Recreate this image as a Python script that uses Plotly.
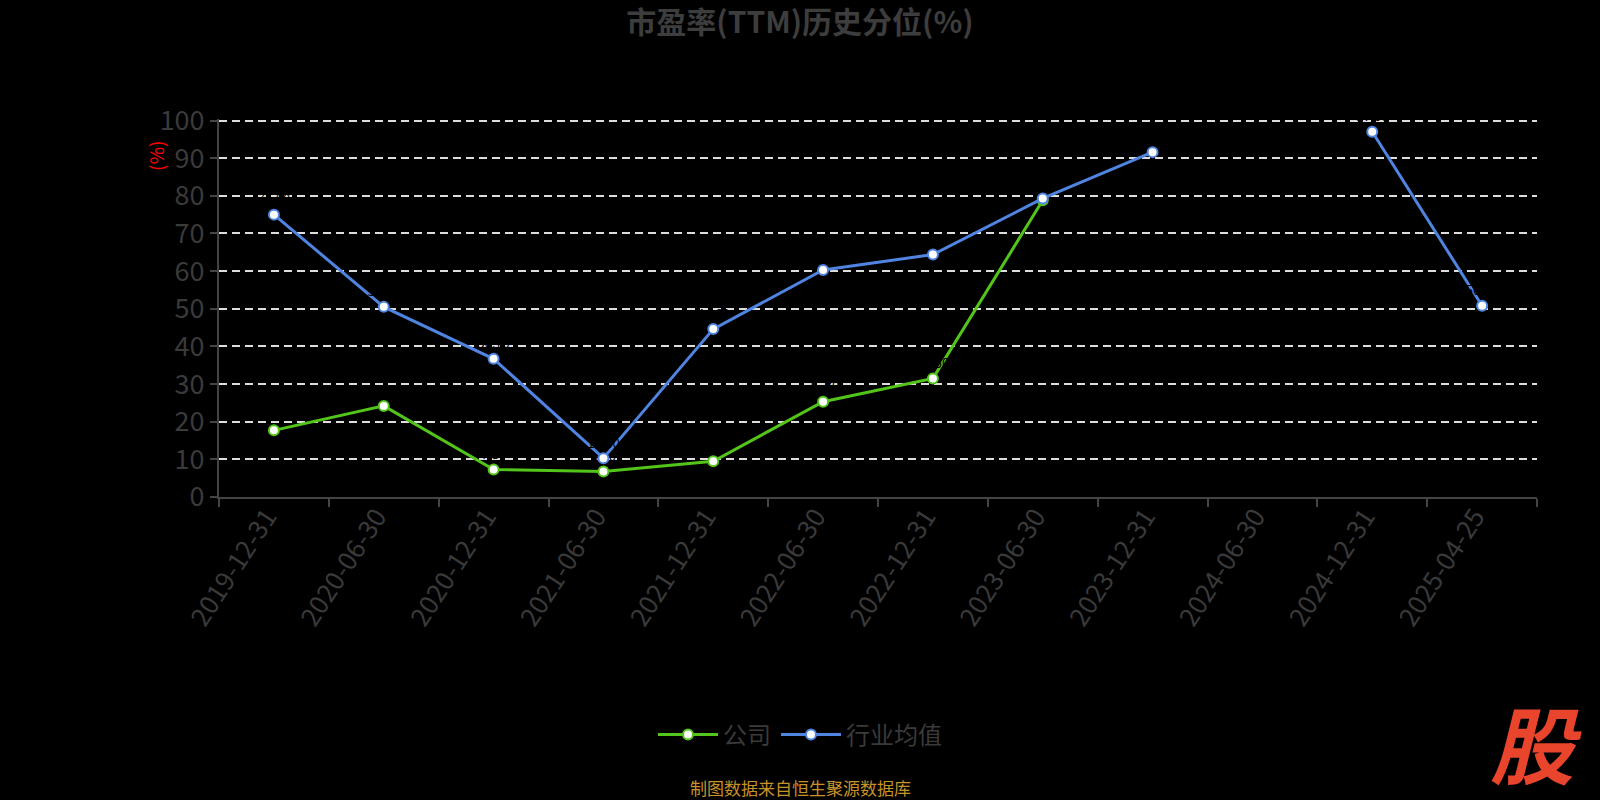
import plotly.graph_objects as go

categories = ["2019-12-31", "2020-06-30", "2020-12-31", "2021-06-30", "2021-12-31",
              "2022-06-30", "2022-12-31", "2023-06-30", "2023-12-31", "2024-06-30",
              "2024-12-31", "2025-04-25"]
company = [17.7, 24.2, 7.3, 6.8, 9.5, 25.3, 31.5, 78.8, None, None, None, None]
industry = [75.0, 50.5, 36.7, 10.3, 44.6, 60.3, 64.4, 79.3, 91.6, None, 97.0, 50.8]
y_ticks = [0, 10, 20, 30, 40, 50, 60, 70, 80, 90, 100]

green = "#52c41a"
blue = "#4f84e0"
font_family = "Noto Sans CJK SC, Noto Sans, sans-serif"

def labels(vals):
    return [("" if v is None else f"{v:.2f}") for v in vals]

fig = go.Figure()
fig.add_trace(go.Scatter(
    x=categories, y=company, name="公司", mode="lines+markers+text",
    line=dict(color=green, width=3),
    marker=dict(size=10, color="white", line=dict(color=green, width=2)),
    text=labels(company), textposition="top center",
    textfont=dict(color="#000000", size=13, family=font_family),
    connectgaps=False,
))
fig.add_trace(go.Scatter(
    x=categories, y=industry, name="行业均值", mode="lines+markers+text",
    line=dict(color=blue, width=3),
    marker=dict(size=10, color="white", line=dict(color=blue, width=2)),
    text=labels(industry), textposition="top center",
    textfont=dict(color="#000000", size=13, family=font_family),
    connectgaps=False,
))

fig.update_layout(
    width=1600, height=800,
    paper_bgcolor="#000000", plot_bgcolor="#000000",
    margin=dict(l=219, r=63, t=119, b=303),
    font=dict(family=font_family, color="#3a3a3a"),
    title=dict(text="<b>市盈率(TTM)历史分位(%)</b>", x=0.5, xanchor="center",
               y=0.972, yanchor="middle",
               font=dict(size=30, color="#3d3d3d", family=font_family)),
    showlegend=True,
    legend=dict(orientation="h", x=(800 - 219) / 1318, xanchor="center",
                y=-(735 - 497) / 378, yanchor="middle",
                font=dict(size=24, color="#3a3a3a", family=font_family),
                itemwidth=60, bgcolor="rgba(0,0,0,0)"),
    xaxis=dict(
        type="category", categoryorder="array", categoryarray=categories,
        range=[-0.5, len(categories) - 0.5],
        showgrid=False, zeroline=False,
        showline=True, linecolor="#444444", linewidth=2,
        ticks="outside", ticklen=8, tickcolor="#444444", tickwidth=2,
        tickson="boundaries",
        ticklabelshift=-7, ticklabelstandoff=-8,
        tickangle=-57, tickfont=dict(size=26, color="#3a3a3a", family=font_family),
    ),
    yaxis=dict(
        range=[0, 100.4], tickvals=y_ticks, ticktext=[str(v) for v in y_ticks],
        showgrid=True, gridcolor="#dddddd", gridwidth=1.5, griddash="8px,5px",
        zeroline=False,
        showline=True, linecolor="#444444", linewidth=2,
        ticks="outside", ticklen=7, tickcolor="#444444", tickwidth=2,
        tickfont=dict(size=27, color="#3a3a3a", family=font_family),
    ),
)

fig.add_annotation(text="(%)", xref="paper", yref="paper",
                   x=(155 - 219) / 1318, y=(497 - 156) / 378,
                   xanchor="center", yanchor="middle",
                   showarrow=False, textangle=-90,
                   font=dict(size=19, color="#ff0000", family=font_family))
fig.add_annotation(text="制图数据来自恒生聚源数据库", xref="paper", yref="paper",
                   x=(800 - 219) / 1318, y=-(787 - 497) / 378,
                   xanchor="center", yanchor="middle",
                   showarrow=False,
                   font=dict(size=17, color="#c8922a", family=font_family))
fig.add_annotation(text="<b><i>股</i></b>", xref="paper", yref="paper",
                   x=(1536 - 219) / 1318, y=-(741 - 497) / 378,
                   xanchor="center", yanchor="middle",
                   showarrow=False,
                   font=dict(size=84, color="#e8452c", family=font_family))

fig.write_html("out.html", config={"displayModeBar": False},
               post_script="document.body.style.margin='0';document.body.style.background='#000';")
